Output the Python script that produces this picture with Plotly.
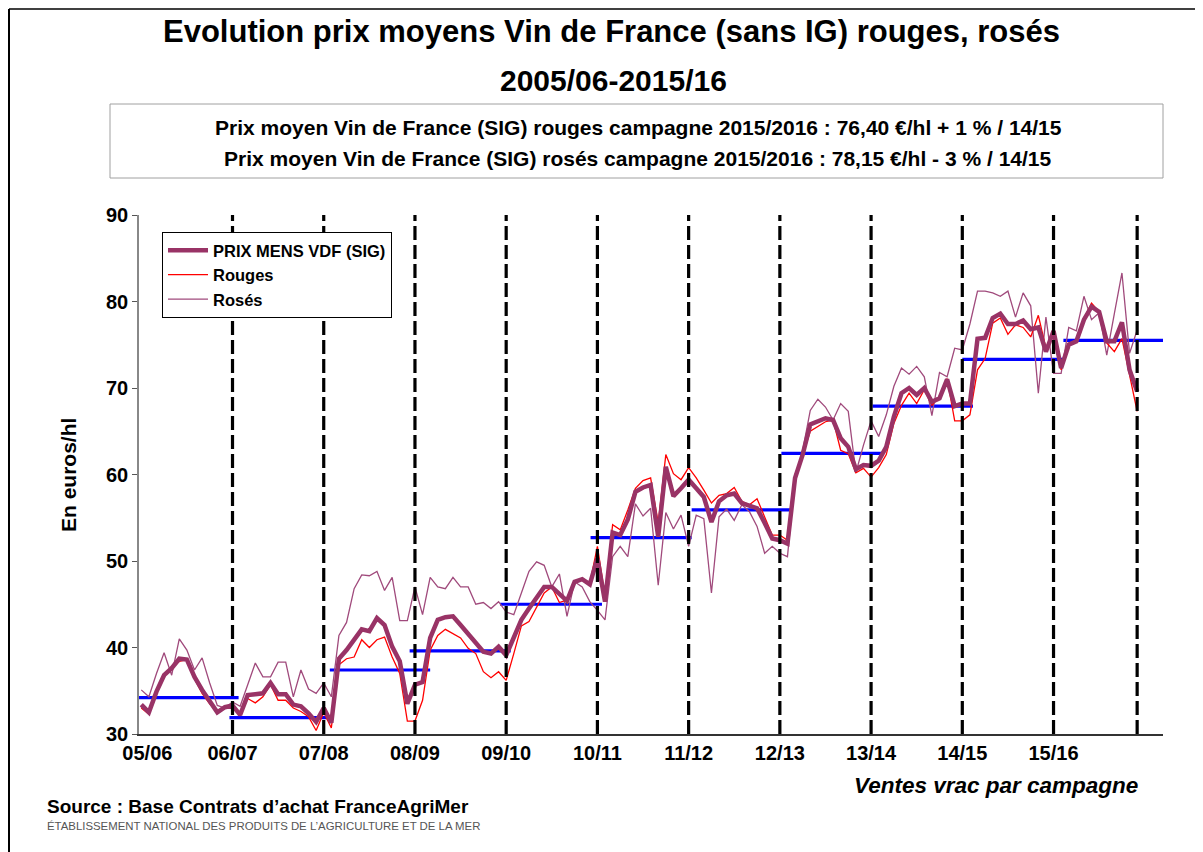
import plotly.graph_objects as go

campaigns = ["05/06", "06/07", "07/08", "08/09", "09/10", "10/11", "11/12", "12/13", "13/14", "14/15", "15/16"]

prix_mens = [33.4, 32.5, 34.9, 36.8, 37.6, 38.7, 38.6, 36.6, 35.1, 33.9, 32.5, 33.1,
             33.3, 32.2, 34.5, 34.6, 34.7, 35.9, 34.6, 34.6, 33.4, 33.2, 32.4, 31.4,
             33.0, 31.3, 38.7, 39.7, 40.9, 42.1, 41.9, 43.4, 42.6, 40.1, 38.4, 33.5,
             35.7, 36.0, 41.1, 43.2, 43.5, 43.6, 42.6, 41.6, 40.6, 39.5, 39.3, 40.1,
             39.1, 41.2, 43.2, 44.5, 45.8, 47.0, 47.0, 46.2, 45.4, 47.6, 47.9, 47.3,
             50.3, 45.3, 53.3, 53.0, 54.8, 58.0, 58.5, 58.8, 52.8, 60.9, 57.5, 58.4,
             59.4, 58.4, 57.4, 54.5, 56.9, 57.6, 57.8, 56.7, 56.4, 56.1, 54.4, 52.6,
             52.4, 52.0, 59.6, 62.3, 65.8, 66.1, 66.5, 66.3, 64.2, 63.2, 60.6, 61.1,
             61.0, 61.6, 63.2, 66.7, 69.4, 70.0, 69.2, 70.0, 68.4, 68.8, 71.0, 67.9,
             68.2, 68.2, 75.7, 75.8, 78.1, 78.6, 77.4, 77.4, 77.8, 76.8, 77.0, 74.2,
             76.6, 72.3, 75.0, 75.4, 77.9, 79.4, 78.8, 75.4, 75.4, 77.6, 72.1, 69.6]

rouges = [33.0, 32.3, 34.9, 36.6, 37.8, 38.4, 38.6, 36.4, 34.7, 33.5, 32.5, 33.2,
          33.3, 32.2, 34.1, 33.6, 34.3, 35.7, 33.9, 33.9, 33.0, 32.6, 32.0, 30.4,
          32.5, 30.7, 38.0, 38.7, 38.9, 40.9, 40.0, 40.9, 41.2, 38.9, 37.0, 31.5,
          31.5, 33.9, 39.7, 41.4, 42.1, 41.6, 41.1, 39.9, 39.3, 37.2, 36.5, 37.2,
          36.2, 39.3, 42.5, 43.0, 44.7, 46.3, 47.0, 45.2, 45.5, 47.6, 48.0, 47.4,
          51.7, 45.9, 54.2, 53.6, 55.9, 58.4, 59.3, 59.6, 54.4, 62.3, 60.1, 59.4,
          60.8, 59.6, 58.2, 56.7, 57.6, 57.8, 58.5, 56.9, 56.5, 57.2, 55.1, 53.0,
          53.0, 52.4, 60.0, 62.2, 65.0, 65.5, 66.1, 66.3, 62.8, 62.4, 60.2, 60.7,
          59.7, 60.8, 62.3, 65.9, 68.0, 69.4, 68.2, 69.8, 68.0, 69.0, 71.1, 66.2,
          66.2, 66.9, 72.1, 73.4, 77.5, 78.1, 76.2, 77.3, 77.0, 75.9, 78.4, 74.6,
          76.7, 72.1, 75.2, 75.4, 78.0, 79.8, 78.8, 75.2, 74.2, 75.7, 71.7, 67.3]

roses = [35.1, 34.3, 37.0, 39.4, 36.8, 41.0, 39.7, 37.4, 38.8, 35.9, 33.3, 33.0,
         33.7, 33.2, 35.7, 38.2, 36.6, 36.6, 38.3, 38.3, 34.3, 37.4, 35.2, 34.7,
         35.9, 34.3, 41.4, 42.9, 46.8, 48.4, 48.3, 48.8, 46.6, 48.1, 43.1, 43.1,
         47.0, 43.8, 48.1, 47.0, 46.8, 48.1, 47.0, 47.0, 45.0, 45.2, 44.5, 45.3,
         44.1, 43.8, 46.3, 48.8, 49.9, 49.5, 47.0, 48.5, 43.6, 47.6, 47.0, 45.3,
         44.3, 43.2, 50.5, 51.7, 50.5, 56.6, 55.2, 56.1, 47.2, 55.6, 53.7, 55.3,
         51.7, 55.3, 54.9, 46.3, 55.1, 56.0, 54.7, 56.5, 55.7, 54.0, 50.9, 51.7,
         50.9, 50.5, 59.6, 62.8, 67.4, 68.7, 67.8, 66.3, 68.2, 67.3, 60.2, 63.4,
         66.2, 64.4, 66.9, 70.2, 72.3, 71.6, 72.5, 71.3, 66.8, 71.8, 71.3, 74.6,
         74.4, 77.4, 81.2, 81.2, 81.0, 80.6, 81.2, 78.2, 81.0, 79.5, 69.4, 78.2,
         71.7, 71.7, 77.0, 76.6, 80.6, 77.9, 78.7, 73.8, 78.6, 83.3, 74.0, 76.7]

# campaign averages and the month span each average line covers
moyennes = [34.2, 31.9, 37.4, 39.6, 45.0, 52.7, 55.9, 62.45, 67.9, 73.3, 75.5]
moy_debut = [-0.4, 11.6, 24.8, 35.3, 47.2, 59.1, 72.4, 84.2, 96.2, 108.0, 121.3]
moy_fin = [12.8, 24.9, 38.0, 48.6, 60.6, 72.4, 85.7, 97.5, 109.4, 121.3, 134.4]

# vertical campaign separators (month index)
separateurs = [12, 24, 36, 48, 60, 72, 84, 96, 108, 120, 131]
label_pos = [0.8, 12, 24, 36, 48, 60, 72, 84, 96, 108, 120]

FONT = "Liberation Sans, Arial, sans-serif"
mois = list(range(len(prix_mens)))

fig = go.Figure()

bx, by = [], []
for v, s, e in zip(moyennes, moy_debut, moy_fin):
    bx += [s, e, None]
    by += [v, v, None]
fig.add_trace(go.Scatter(x=bx, y=by, mode="lines", line=dict(color="#0000ff", width=3.2),
                         showlegend=False, hoverinfo="skip"))

fig.add_trace(go.Scatter(x=mois, y=roses, mode="lines", name="<b>Rosés</b>",
                         line=dict(color="#a04a7c", width=1.3)))
fig.add_trace(go.Scatter(x=mois, y=rouges, mode="lines", name="<b>Rouges</b>",
                         line=dict(color="#ff0000", width=1.3)))
fig.add_trace(go.Scatter(x=mois, y=prix_mens, mode="lines", name="<b>PRIX MENS VDF (SIG)</b>",
                         line=dict(color="#993366", width=4.5)))

shapes = []
for s in separateurs:
    shapes.append(dict(type="line", xref="x", yref="y", x0=s, x1=s, y0=30, y1=90,
                       line=dict(color="black", width=3.2, dash="14px,5px"), layer="above"))

# page has an 8px body margin: figure is shifted by OFF pixels
OFF = 8
PL, PR, PT, PB = 139, 1163, 215, 734   # plot area in page pixels
W, H = 1203 - OFF, 852 - OFF
L, T = PL - OFF, PT - OFF
R, B = W - (PR - OFF), H - (PB - OFF)
pw, ph = PR - PL, PB - PT
def px(x):
    return (x - PL) / pw
def py(y):
    return (PB - y) / ph

# header box
shapes.append(dict(type="rect", xref="paper", yref="paper", x0=px(110), x1=px(1163),
                   y0=py(178), y1=py(104), line=dict(color="#a0a0a0", width=1)))
# outer frame
shapes.append(dict(type="line", xref="paper", yref="paper", x0=px(9), x1=px(9),
                   y0=py(860), y1=py(9), line=dict(color="black", width=2)))
shapes.append(dict(type="line", xref="paper", yref="paper", x0=px(9), x1=px(1210),
                   y0=py(9), y1=py(9), line=dict(color="black", width=1.5)))

ann = []
ann.append(dict(text="<b>Evolution prix moyens Vin de France (sans IG) rouges, rosés</b>",
                x=px(611), y=py(32), xref="paper", yref="paper", showarrow=False,
                font=dict(family=FONT, size=31, color="black"), xanchor="center", yanchor="middle"))
ann.append(dict(text="<b>2005/06-2015/16</b>",
                x=px(613), y=py(80), xref="paper", yref="paper", showarrow=False,
                font=dict(family=FONT, size=30, color="black"), xanchor="center", yanchor="middle"))
ann.append(dict(text="<b>Prix moyen Vin de France (SIG) rouges campagne 2015/2016 : 76,40 €/hl + 1 % / 14/15</b>",
                x=px(638), y=py(127), xref="paper", yref="paper", showarrow=False,
                font=dict(family=FONT, size=21, color="black"), xanchor="center", yanchor="middle"))
ann.append(dict(text="<b>Prix moyen Vin de France (SIG) rosés campagne 2015/2016 : 78,15 €/hl - 3 % / 14/15</b>",
                x=px(638), y=py(158), xref="paper", yref="paper", showarrow=False,
                font=dict(family=FONT, size=21, color="black"), xanchor="center", yanchor="middle"))
ann.append(dict(text="<b>En euros/hl</b>", textangle=-90,
                x=px(68), y=py(475), xref="paper", yref="paper", showarrow=False,
                font=dict(family=FONT, size=21, color="black"), xanchor="center", yanchor="middle"))
ann.append(dict(text="<b><i>Ventes vrac par campagne</i></b>",
                x=px(1140), y=py(785), xref="paper", yref="paper", showarrow=False,
                font=dict(family=FONT, size=22.5, color="black"), xanchor="right", yanchor="middle"))
ann.append(dict(text="<b>Source : Base Contrats d’achat FranceAgriMer</b>",
                x=px(45), y=py(806), xref="paper", yref="paper", showarrow=False,
                font=dict(family=FONT, size=19, color="black"), xanchor="left", yanchor="middle"))
ann.append(dict(text="ÉTABLISSEMENT NATIONAL DES PRODUITS DE L’AGRICULTURE ET DE LA MER",
                x=px(45), y=py(826), xref="paper", yref="paper", showarrow=False,
                font=dict(family=FONT, size=11.4, color="#555555"), xanchor="left", yanchor="middle"))

fig.update_layout(
    width=W, height=H,
    margin=dict(l=L, r=R, t=T, b=B, pad=0),
    paper_bgcolor="white", plot_bgcolor="white",
    font=dict(family=FONT, color="black"),
    shapes=shapes, annotations=ann,
    showlegend=True,
    legend=dict(x=px(162), y=py(232), xanchor="left", yanchor="top",
                bgcolor="white", bordercolor="black", borderwidth=1,
                font=dict(family=FONT, size=16.5, color="black"),
                traceorder="reversed", tracegroupgap=0, itemwidth=40,
                entrywidth=270, entrywidthmode="pixels"),
)
fig.update_xaxes(range=[-0.3, 134.4], tickmode="array", tickvals=label_pos,
                 ticktext=["<b>%s</b>" % c for c in campaigns], showgrid=False, zeroline=False,
                 showline=True, linecolor="#333333", linewidth=1.5, ticks="",
                 tickfont=dict(family=FONT, size=20, color="black"))
fig.update_yaxes(range=[30, 90], tickvals=[30, 40, 50, 60, 70, 80, 90],
                 ticktext=["<b>%d</b>" % v for v in [30, 40, 50, 60, 70, 80, 90]],
                 showgrid=False, zeroline=False, showline=True, linecolor="#888888", linewidth=1.5,
                 ticks="outside", ticklen=5, tickcolor="#555555",
                 tickfont=dict(family=FONT, size=20, color="black"))

fig.write_html("out.html")
